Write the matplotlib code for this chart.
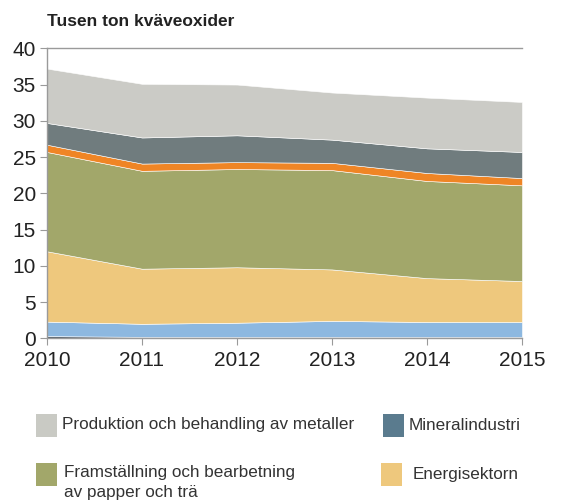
import matplotlib
matplotlib.use("Agg")
import matplotlib.pyplot as plt
from matplotlib.patches import Rectangle

plt.rcParams['font.family'] = ['Liberation Sans', 'DejaVu Sans']

years = [2010, 2011, 2012, 2013, 2014, 2015]

# layers from bottom to top (tusen ton)
ovrigt = [0.3, 0.2, 0.2, 0.2, 0.2, 0.2]
bla = [2.0, 1.8, 1.95, 2.2, 2.05, 2.05]
energi = [9.7, 7.6, 7.65, 7.1, 6.05, 5.65]
papper = [13.7, 13.5, 13.55, 13.7, 13.4, 13.2]
orange = [1.0, 1.0, 0.95, 1.0, 1.1, 1.0]
mineral = [3.0, 3.6, 3.7, 3.2, 3.4, 3.6]
metaller = [7.5, 7.4, 7.0, 6.5, 7.0, 6.9]

layer_colors = ['#5d6670', '#8db8e0', '#eec87d', '#a2a76a', '#ef8525', '#707c7e', '#cbcbc6']

legend_labels = ['Produktion och behandling av metaller', 'Mineralindustri',
                 'Framställning och bearbetning\nav papper och trä', 'Energisektorn']
legend_colors = ['#c9cac4', '#5a7b8e', '#a2a76a', '#eec87d']

fig = plt.figure(figsize=(5.72, 5.04), dpi=100)
ax = fig.add_axes([47/572, 1-338.3/504, 475/572, 290/504])

ax.stackplot(years, ovrigt, bla, energi, papper, orange, mineral, metaller,
             colors=layer_colors, edgecolor='white', linewidth=0.4)

ax.set_xlim(2010, 2015)
ax.set_ylim(0, 40)
ax.set_xticks(years)
ax.set_yticks(range(0, 41, 5))
for s in ['left', 'bottom', 'top']:
    ax.spines[s].set_color('#9a9a9a')
    ax.spines[s].set_linewidth(1.0)
ax.spines['right'].set_visible(False)
ax.tick_params(direction='out', length=5, color='#9a9a9a', labelcolor='#222222',
               labelsize=15)
ax.tick_params(axis='y', pad=3)
ax.tick_params(axis='x', pad=4)

fig.text(47/572, 1-22/504, 'Tusen ton kväveoxider', fontweight='bold',
         fontsize=12.5, color='#222222', va='center', ha='left')

# legend drawn by hand
boxes = [(36, 414), (383, 414), (36, 463), (381, 463)]
texts = [(62, 425), (409, 425), (64, 465), (413, 474)]
for (bx, by), (tx, ty), lab, col in zip(boxes, texts, legend_labels, legend_colors):
    fig.patches.append(Rectangle((bx/572, 1-(by+23)/504), 21/572, 23/504,
                                 transform=fig.transFigure, facecolor=col, edgecolor='none'))
    fig.text(tx/572, 1-ty/504, lab, fontsize=12.3, color='#333333',
             va='top' if '\n' in lab else 'center', ha='left', linespacing=1.4)

fig.savefig('out.png', dpi=100)
